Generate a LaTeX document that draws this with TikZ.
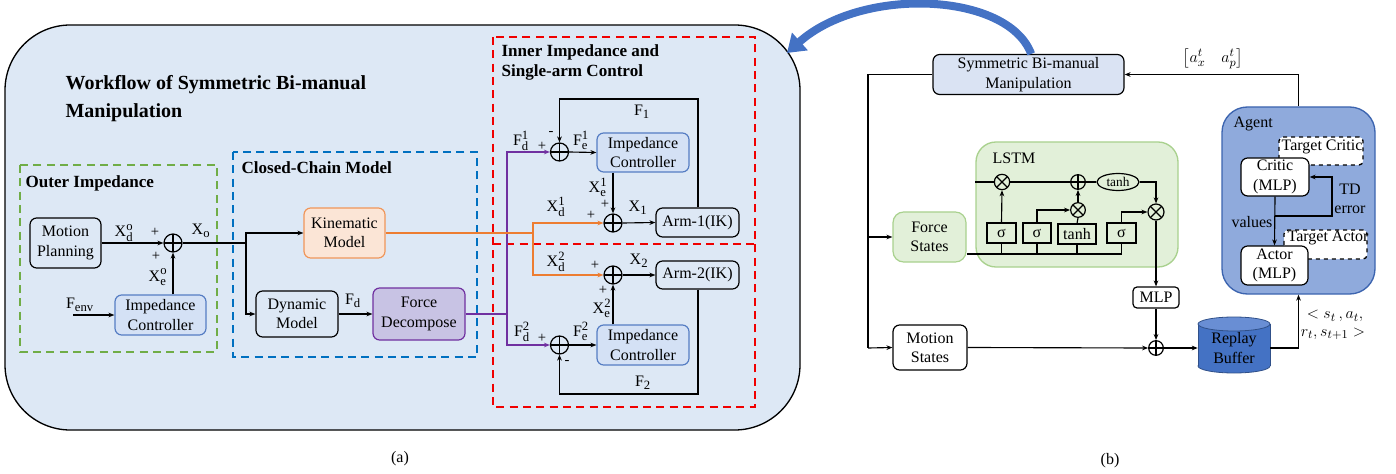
\documentclass[tikz,border=0pt]{standalone}
\usepackage{fontspec}
\setmainfont{Liberation Serif}
\usepackage{amsmath}
\DeclareMathSizes{12}{12}{9.5}{7.5}
\usetikzlibrary{arrows.meta,shapes.geometric}
\definecolor{panelblue}{RGB}{221,232,245}
\definecolor{icfill}{RGB}{212,225,245}
\definecolor{icdraw}{RGB}{85,125,195}
\definecolor{kmfill}{RGB}{251,229,214}
\definecolor{kmdraw}{RGB}{240,150,90}
\definecolor{fdfill}{RGB}{200,195,228}
\definecolor{fddraw}{RGB}{112,48,160}
\definecolor{orangeln}{RGB}{237,125,49}
\definecolor{purpleln}{RGB}{112,48,160}
\definecolor{gdash}{RGB}{112,173,71}
\definecolor{bdash}{RGB}{0,112,192}
\definecolor{rdash}{RGB}{240,0,0}
\definecolor{lgfill}{RGB}{226,240,217}
\definecolor{lgdraw}{RGB}{169,209,142}
\definecolor{agfill}{RGB}{143,170,220}
\definecolor{agdraw}{RGB}{60,100,175}
\definecolor{bigarrow}{RGB}{68,114,196}
\definecolor{rbbody}{RGB}{68,114,196}
\definecolor{rbtop}{RGB}{105,142,212}
\definecolor{sbmfill}{RGB}{218,227,243}
\newcommand{\XS}[3]{$\text{#1}_{\text{#2}}^{\text{#3}}$}
\newcommand{\XL}[2]{$\text{#1}_{\text{#2}}$}
\tikzset{
  every node/.style={font=\fontsize{12}{14.5}\selectfont, inner sep=1pt, align=center},
  sz/.style 2 args={minimum width=#1*0.75pt, minimum height=#2*0.75pt},
  blk/.style={draw, rounded corners=5pt, line width=0.9pt},
  icb/.style={blk, draw=icdraw, fill=icfill},
  kmb/.style={blk, draw=kmdraw, fill=kmfill},
  fdb/.style={blk, draw=fddraw, fill=fdfill},
  gbox/.style={blk, draw=lgdraw, fill=lgfill, rounded corners=8pt},
  tbox/.style={draw, dashed, line width=1pt, fill=white, rounded corners=3pt},
  sqb/.style={draw, line width=0.9pt},
  arr/.style={-{Stealth[length=4.5pt,width=3.5pt]}, line width=0.85pt},
  ln/.style={line width=0.85pt},
  dashbox/.style={line width=1.5pt, dash pattern=on 6pt off 4pt},
  hdr/.style={font=\bfseries\fontsize{12.8}{15}\selectfont},
  sml/.style={font=\fontsize{11}{13}\selectfont, inner sep=0pt},
  sumc/.style={circle, draw, line width=0.9pt, minimum size=#1, inner sep=0pt,
    path picture={\draw[line width=0.9pt] (path picture bounding box.north) -- (path picture bounding box.south)
      (path picture bounding box.west) -- (path picture bounding box.east);}},
  mulc/.style={circle, draw, line width=0.9pt, minimum size=#1, inner sep=0pt,
    path picture={\draw[line width=0.9pt] (path picture bounding box.north west) -- (path picture bounding box.south east)
      (path picture bounding box.south west) -- (path picture bounding box.north east);}},
}
\begin{document}
\begin{tikzpicture}[x=0.75pt,y=-0.75pt]
\useasboundingbox (0,0) rectangle (1396,474);

% ================= left panel =================
\draw[line width=1pt, fill=panelblue, rounded corners=49pt] (5,25) rectangle (800,430);
\node[anchor=west, align=left, font=\bfseries\fontsize{15}{21}\selectfont] (ttl) at (64,99)
  {Workflow of Symmetric Bi-manual\\Manipulation};

\draw[dashbox, draw=gdash] (20,165) rectangle (217,352);
\draw[dashbox, draw=bdash] (233,152) rectangle (477,357);
\draw[dashbox, draw=rdash] (493,37) rectangle (755,407);
\draw[dashbox, draw=rdash] (493,244) -- (755,244);

\node[hdr, anchor=west] (hOuter) at (24,183) {Outer Impedance};
\node[hdr, anchor=west] (hCC) at (240,168) {Closed-Chain Model};
\node[hdr, anchor=west, align=left] (hInner) at (500,62) {Inner Impedance and\\Single-arm Control};

% blocks
\node[blk, sz={71}{50}] (mp) at (65.5,243) {Motion\\Planning};
\node[icb, sz={91}{40}] (ic0) at (160.5,315) {Impedance\\Controller};
\node[sumc=13.5pt] (s1) at (173,243) {};
\node[kmb, sz={81}{50}] (km) at (344.5,233) {Kinematic\\Model};
\node[blk, sz={82}{46}] (dm) at (297,314) {Dynamic\\Model};
\node[fdb, sz={92}{52}] (fd) at (419,314) {Force\\Decompose};
\node[sumc=13.5pt] (sF1) at (559.5,152) {};
\node[icb, sz={92}{39}] (ic1) at (643,152.5) {Impedance\\Controller};
\node[sumc=13.5pt] (sX1) at (613,223) {};
\node[blk, sz={83}{29}] (arm1) at (697.5,222.5) {Arm-1(IK)};
\node[sumc=13.5pt] (sX2) at (613,275) {};
\node[blk, sz={83}{28}] (arm2) at (697.5,275) {Arm-2(IK)};
\node[sumc=13.5pt] (sF2) at (559.5,345) {};
\node[icb, sz={92}{40}] (ic2) at (643,345) {Impedance\\Controller};

\coordinate (fenv) at (73,315);
\coordinate (j1) at (246,243);
\coordinate (jp) at (507,314);
\coordinate (jo) at (533,233);
\coordinate (f1top) at (698,99);
\coordinate (f2bot) at (698,394);

\draw[arr] (mp.east) -- (s1.west);
\draw[arr] (ic0.north -| s1) -- (s1.south);
\draw[arr] (fenv) -- (ic0.west);
\draw[ln] (s1.east) -- (j1);
\draw[arr] (j1) |- (km.west);
\draw[arr] (j1) |- (dm.west);
\draw[arr] (dm.east) -- (fd.west);
\draw[arr, purpleln] (fd.east) -- (jp) |- (sF1.west);
\draw[arr, purpleln] (jp) |- (sF2.west);
\draw[arr, orangeln] (km.east) -- (jo) |- (sX1.west);
\draw[arr, orangeln] (jo) |- (sX2.west);
\draw[arr] (sF1.east) -- (ic1.west);
\draw[arr] (sF2.east) -- (ic2.west);
\draw[arr] (ic1.south -| sX1) -- (sX1.north);
\draw[arr] (ic2.north -| sX2) -- (sX2.south);
\draw[arr] (sX1.east) -- (arm1.west);
\draw[arr] (sX2.east) -- (arm2.west);
\draw[arr] (arm1.north -| f1top) -- (f1top) -| (sF1.north);
\draw[arr] (arm2.south -| f2bot) -- (f2bot) -| (sF2.south);

% labels
\node (lXdo) at (124,233) {\XS{X}{d}{o}};
\node[sml] (p1) at (155,232) {+};
\node (lXeo) at (158,277) {\XS{X}{e}{o}};
\node[sml] (p2) at (156,256) {+};
\node (lXo) at (201,231) {\XL{X}{o}};
\node (lFenv) at (80,305) {\XL{F}{env}};
\node (lFd) at (353,301) {\XL{F}{d}};
\node (lF1) at (642,112) {\XL{F}{1}};
\node[sml] (m1) at (551,133) {-};
\node (lFd1) at (521,141) {\XS{F}{d}{1}};
\node[sml] (p3) at (542,146) {+};
\node (lFe1) at (581,140) {\XS{F}{e}{1}};
\node (lXe1) at (598,187) {\XS{X}{e}{1}};
\node[sml] (p4) at (605,204) {+};
\node (lXd1) at (556,207) {\XS{X}{d}{1}};
\node[sml] (p5) at (591,215) {+};
\node (lX1) at (638,208) {\XL{X}{1}};
\node (lXd2) at (556,262) {\XS{X}{d}{2}};
\node[sml] (p6) at (595,265) {+};
\node (lX2) at (639,261) {\XL{X}{2}};
\node[sml] (p7) at (603,290) {+};
\node (lXe2) at (602,308) {\XS{X}{e}{2}};
\node (lFd2) at (522,332) {\XS{F}{d}{2}};
\node[sml] (p8) at (542,338) {+};
\node (lFe2) at (581,331) {\XS{F}{e}{2}};
\node[sml] (m2) at (567,362) {-};
\node (lF2) at (643,383) {\XL{F}{2}};

\node (capa) at (400,459) {(a)};
\node (capb) at (1110,461) {(b)};

% ================= right panel =================
\node[blk, fill=sbmfill, sz={191}{40}] (sbm) at (1028.5,74.5) {Symmetric Bi-manual\\Manipulation};
\coordinate (arrowend) at (787,53);
\draw[line width=6pt, bigarrow, -{Triangle[length=13pt,width=17pt]}]
  ([xshift=2pt]sbm.north) .. controls (1008,-8) and (862,-14) .. (arrowend);

\node[draw=lgdraw, fill=lgfill, line width=1pt, rounded corners=15pt, sz={202}{125}] (lstm) at (1077,204.5) {};
\node (lstmlbl) at (1014,158) {LSTM};
\node[gbox, sz={73}{50}] (fs) at (929.5,237) {Force\\States};
\node[blk, fill=white, sz={74}{45}] (ms) at (930,347.5) {Motion\\States};

\node[mulc=11.5pt] (ot1) at (1002,182) {};
\node[sumc=11pt] (op1) at (1078,182) {};
\node[mulc=11pt] (ot2) at (1078,210) {};
\node[mulc=12pt] (ot3) at (1156,212) {};
\node[ellipse, draw, line width=0.9pt, inner sep=0pt, sz={42}{17}, font=\fontsize{10}{12}\selectfont] (tanhE) at (1118,182) {tanh};
\node[sqb, sz={29}{20}] (sig1) at (1001.5,233) {σ};
\node[sqb, sz={28}{20}] (sig2) at (1037,233) {σ};
\node[sqb, sz={38}{20}] (tanhB) at (1077,234) {tanh};
\node[sqb, sz={29}{20}] (sig3) at (1121.5,233) {σ};
\node[blk, fill=white, rounded corners=3pt, sz={46}{21}] (mlp) at (1156,297.5) {MLP};
\node[sumc=11pt] (osum) at (1156,348) {};

\coordinate (lv1) at (868,237);
\coordinate (lv2) at (868,348);
\coordinate (inb) at (1121.5,254);
\draw[ln] (sbm.west) -| (lv2);
\draw[arr] (lv1) -- (fs.west);
\draw[arr] (lv2) -- (ms.west);

\draw[ln] (lstm.west |- ot1) -- (ot1.west);
\draw[ln] (ot1.east) -- (op1.west);
\draw[ln] (op1.east) -- (tanhE.west);
\draw[arr] (tanhE.east) -| (ot3.north);
\draw[ln] (fs.east |- inb) -- (inb) -- (sig3.south);
\draw[ln] (sig1.south) -- (sig1.south |- inb);
\draw[ln] (sig2.south) -- (sig2.south |- inb);
\draw[ln] (tanhB.south) -- (tanhB.south |- inb);
\draw[arr] (sig1.north) -- (ot1.south);
\draw[arr] (sig2.north) |- (ot2.west);
\draw[ln] (tanhB.north) -- (ot2.south);
\draw[arr] (ot2.north) -- (op1.south);
\draw[arr] (sig3.north) |- (ot3.west);
\draw[arr] (ot3.south) -- (mlp.north);
\draw[arr] (mlp.south) -- (osum.north);
\draw[arr] (ms.east) -- (osum.west);

% replay buffer cylinder
\filldraw[fill=rbbody, draw=rbbody!70!black, line width=0.6pt] (1234,366) ellipse [x radius=36, y radius=7];
\fill[rbbody] (1198,324) rectangle (1270,366);
\draw[rbbody!70!black, line width=0.6pt] (1198,324) -- (1198,366) (1270,324) -- (1270,366);
\filldraw[fill=rbtop, draw=rbbody!70!black, line width=0.6pt] (1234,324) ellipse [x radius=36, y radius=7];
\node[sz={72}{40}] (rb) at (1234,348) {Replay\\Buffer};
\draw[arr] (osum.east) -- (rb.west);

% agent
\node[draw=agdraw, fill=agfill, line width=1pt, rounded corners=19pt, sz={153}{187}] (agent) at (1298.5,200.5) {};
\node[anchor=west] (agentlbl) at (1232,124) {Agent};
\node[tbox, sz={84}{28}] (tc) at (1321,151) {};
\node (tctxt) at (1322,147) {Target Critic};
\node[blk, fill=white, sz={68}{38}] (crit) at (1275,177) {Critic\\(MLP)};
\node[tbox, sz={83}{29}] (ta) at (1325.5,244.5) {};
\node (tatxt) at (1328,238) {Target Actor};
\node[blk, fill=white, sz={67}{39}] (act) at (1274.5,265.5) {Actor\\(MLP)};
\coordinate (tdb) at (1332,216);
\draw[arr] (crit.south) -- (act.north);
\draw[arr] (crit.south |- tdb) -- (tdb) |- (crit.east);
\node (vals) at (1252,222) {values};
\node (tdl) at (1350,199) {TD\\error};

\draw[arr] (agent.north) |- (sbm.east);
\draw[arr] (rb.east) -| (agent.south);
\node (lact) at (1213,59) {$\bigl[a_x^t\quad a_p^t\bigr]$};
\node (ltr1) at (1335,316) {$<s_t\,,a_t,$};
\node (ltr2) at (1333,334) {$r_t,s_{t+1}>$};
\end{tikzpicture}
\end{document}
